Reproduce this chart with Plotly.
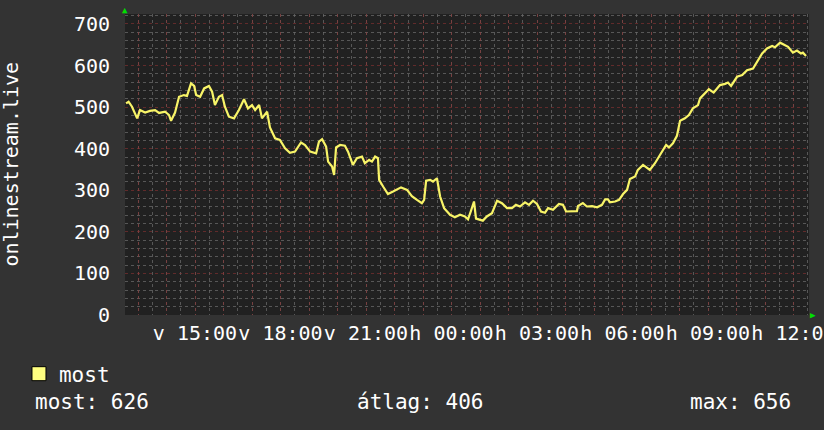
import plotly.graph_objects as go

# time in hours (15.0 = 15:00 on day one, 24+ = next day), viewer count
hours = [
    12.58, 12.67, 12.79, 12.97, 13.07, 13.25, 13.42, 13.60, 13.74, 13.95,
    14.09, 14.16, 14.30, 14.44, 14.61, 14.72, 14.86, 14.97, 15.04, 15.18,
    15.32, 15.49, 15.60, 15.70, 15.84, 15.95, 16.05, 16.19, 16.37, 16.54,
    16.72, 16.86, 17.00, 17.11, 17.25, 17.35, 17.53, 17.63, 17.81, 17.98,
    18.16, 18.33, 18.51, 18.72, 18.86, 19.04, 19.25, 19.35, 19.46, 19.60,
    19.67, 19.81, 19.88, 19.95, 20.09, 20.26, 20.37, 20.54, 20.68, 20.86,
    20.96, 21.11, 21.21, 21.32, 21.42, 21.46, 21.60, 21.77, 21.95, 22.23,
    22.44, 22.61, 22.79, 22.96, 23.04, 23.11, 23.25, 23.35, 23.49, 23.60,
    23.74, 23.95, 24.12, 24.30, 24.47, 24.58, 24.68, 24.79, 24.86, 25.10,
    25.24, 25.42, 25.60, 25.77, 25.95, 26.12, 26.26, 26.40, 26.58, 26.72,
    26.86, 27.00, 27.14, 27.28, 27.39, 27.56, 27.77, 27.91, 28.02, 28.23,
    28.40, 28.44, 28.61, 28.75, 28.93, 29.11, 29.28, 29.39, 29.49, 29.56,
    29.74, 29.88, 30.02, 30.16, 30.26, 30.44, 30.54, 30.72, 30.86, 30.96,
    31.14, 31.32, 31.53, 31.63, 31.77, 31.91, 32.02, 32.19, 32.33, 32.47,
    32.65, 32.72, 32.89, 33.03, 33.20, 33.42, 33.60, 33.70, 33.81, 34.02,
    34.20, 34.37, 34.58, 34.72, 34.90, 35.07, 35.25, 35.35, 35.53, 35.67,
    35.81, 35.98, 36.12, 36.26, 36.33, 36.44,
]
viewers = [
    509, 513, 501, 473, 493, 487, 491, 493, 486, 489,
    481, 467, 487, 525, 529, 527, 557, 551, 529, 525,
    545, 551, 537, 505, 525, 529, 501, 477, 473, 493,
    519, 497, 505, 493, 505, 473, 489, 451, 425, 421,
    401, 390, 393, 415, 409, 393, 389, 417, 423, 405,
    369, 357, 337, 403, 409, 407, 393, 361, 377, 381,
    365, 373, 369, 381, 377, 325, 309, 291, 297, 307,
    301, 286, 277, 269, 277, 323, 325, 321, 329, 285,
    257, 241, 235, 241, 237, 230, 250, 273, 232, 227,
    237, 245, 275, 269, 257, 257, 265, 261, 271, 265,
    275, 267, 249, 246, 257, 253, 267, 265, 249, 249,
    250, 262, 269, 261, 262, 259, 265, 278, 278, 271,
    273, 277, 291, 301, 327, 333, 349, 361, 355, 349,
    365, 385, 409, 403, 413, 431, 467, 473, 481, 497,
    505, 521, 533, 543, 535, 553, 556, 559, 551, 573,
    577, 589, 593, 609, 629, 641, 647, 644, 655, 650,
    645, 631, 636, 629, 631, 623,
]

x_start, x_end = 12.544, 36.544
hour_ticks = list(range(13, 37))
label_hours = [15, 18, 21, 24, 27, 30, 33, 36]
label_texts = ["v 15:00", "v 18:00", "v 21:00", "h 00:00",
               "h 03:00", "h 06:00", "h 09:00", "h 12:00"]
tick_texts = [label_texts[label_hours.index(h)] if h in label_hours else ""
              for h in hour_ticks]

series_name = "most"
stat_now, stat_avg, stat_max = 626, 406, 656
y_title = "onlinestream.live"

BG = "#333333"
PLOT_BG = "#212121"
LINE = "#f8f468"
MAJOR = "rgba(140,50,50,0.6)"
MINOR = "rgba(105,105,105,0.75)"
FONT = "DejaVu Sans Mono"

fig = go.Figure()
fig.add_trace(go.Scatter(
    x=hours, y=viewers, mode="lines",
    line=dict(color=LINE, width=2.2),
    showlegend=False, hoverinfo="skip",
))
# legend key only
fig.add_trace(go.Scatter(
    x=[None], y=[None], mode="markers", name=series_name,
    marker=dict(symbol="square", size=14, color="#ffff80",
                line=dict(color="black", width=1)),
))

fig.update_layout(
    width=824, height=430,
    margin=dict(l=125, r=15, t=14, b=115, autoexpand=False),
    paper_bgcolor=BG, plot_bgcolor=PLOT_BG,
    font=dict(family=FONT, size=20, color="white"),
    showlegend=True,
    legend=dict(x=-0.155, xanchor="left", y=-0.128, yanchor="top",
                bgcolor="rgba(0,0,0,0)", font=dict(size=21),
                itemwidth=30),
    xaxis=dict(
        range=[x_start, x_end], showline=False, zeroline=False,
        tickmode="array", tickvals=hour_ticks, ticktext=tick_texts,
        tickangle=0, ticks="", ticklabelstandoff=4,
        ticklabeloverflow="allow", automargin=False,
        showgrid=True, gridcolor=MAJOR, griddash="dot", gridwidth=1,
        minor=dict(tickmode="linear", tick0=0, dtick=0.5, showgrid=True,
                   gridcolor=MINOR, griddash="dot", gridwidth=1),
    ),
    yaxis=dict(
        range=[0, 724], showline=False, zeroline=False,
        tickmode="linear", tick0=0, dtick=100, ticks="",
        ticklabelstandoff=14, automargin=False,
        showgrid=True, gridcolor=MAJOR, griddash="dot", gridwidth=1,
        minor=dict(tickmode="linear", tick0=0, dtick=20, showgrid=True,
                   gridcolor=MINOR, griddash="dot", gridwidth=1),
    ),
)

fig.add_annotation(text=y_title, xref="paper", yref="paper",
                   x=-0.168, y=0.5, xanchor="center", yanchor="middle",
                   textangle=-90, showarrow=False, font=dict(size=20))

stats = [(f"most: {stat_now}", -0.1345), (f"átlag: {stat_avg}", 0.336),
         (f"max: {stat_max}", 0.823)]
for txt, xp in stats:
    fig.add_annotation(text=txt, xref="paper", yref="paper", x=xp, y=-0.289,
                       xanchor="left", yanchor="middle", showarrow=False,
                       font=dict(size=21))

# green axis arrows
fig.add_annotation(text="▲", xref="paper", yref="paper", x=0, y=1,
                   xanchor="center", yanchor="bottom", yshift=-3,
                   showarrow=False, font=dict(size=9, color="#00e000"))
fig.add_annotation(text="▶", xref="paper", yref="paper", x=1, y=0,
                   xanchor="left", yanchor="middle", xshift=-1,
                   showarrow=False, font=dict(size=9, color="#00e000"))

fig.write_html("out.html", config={"displayModeBar": False},
               post_script="document.body.style.margin='0';")
